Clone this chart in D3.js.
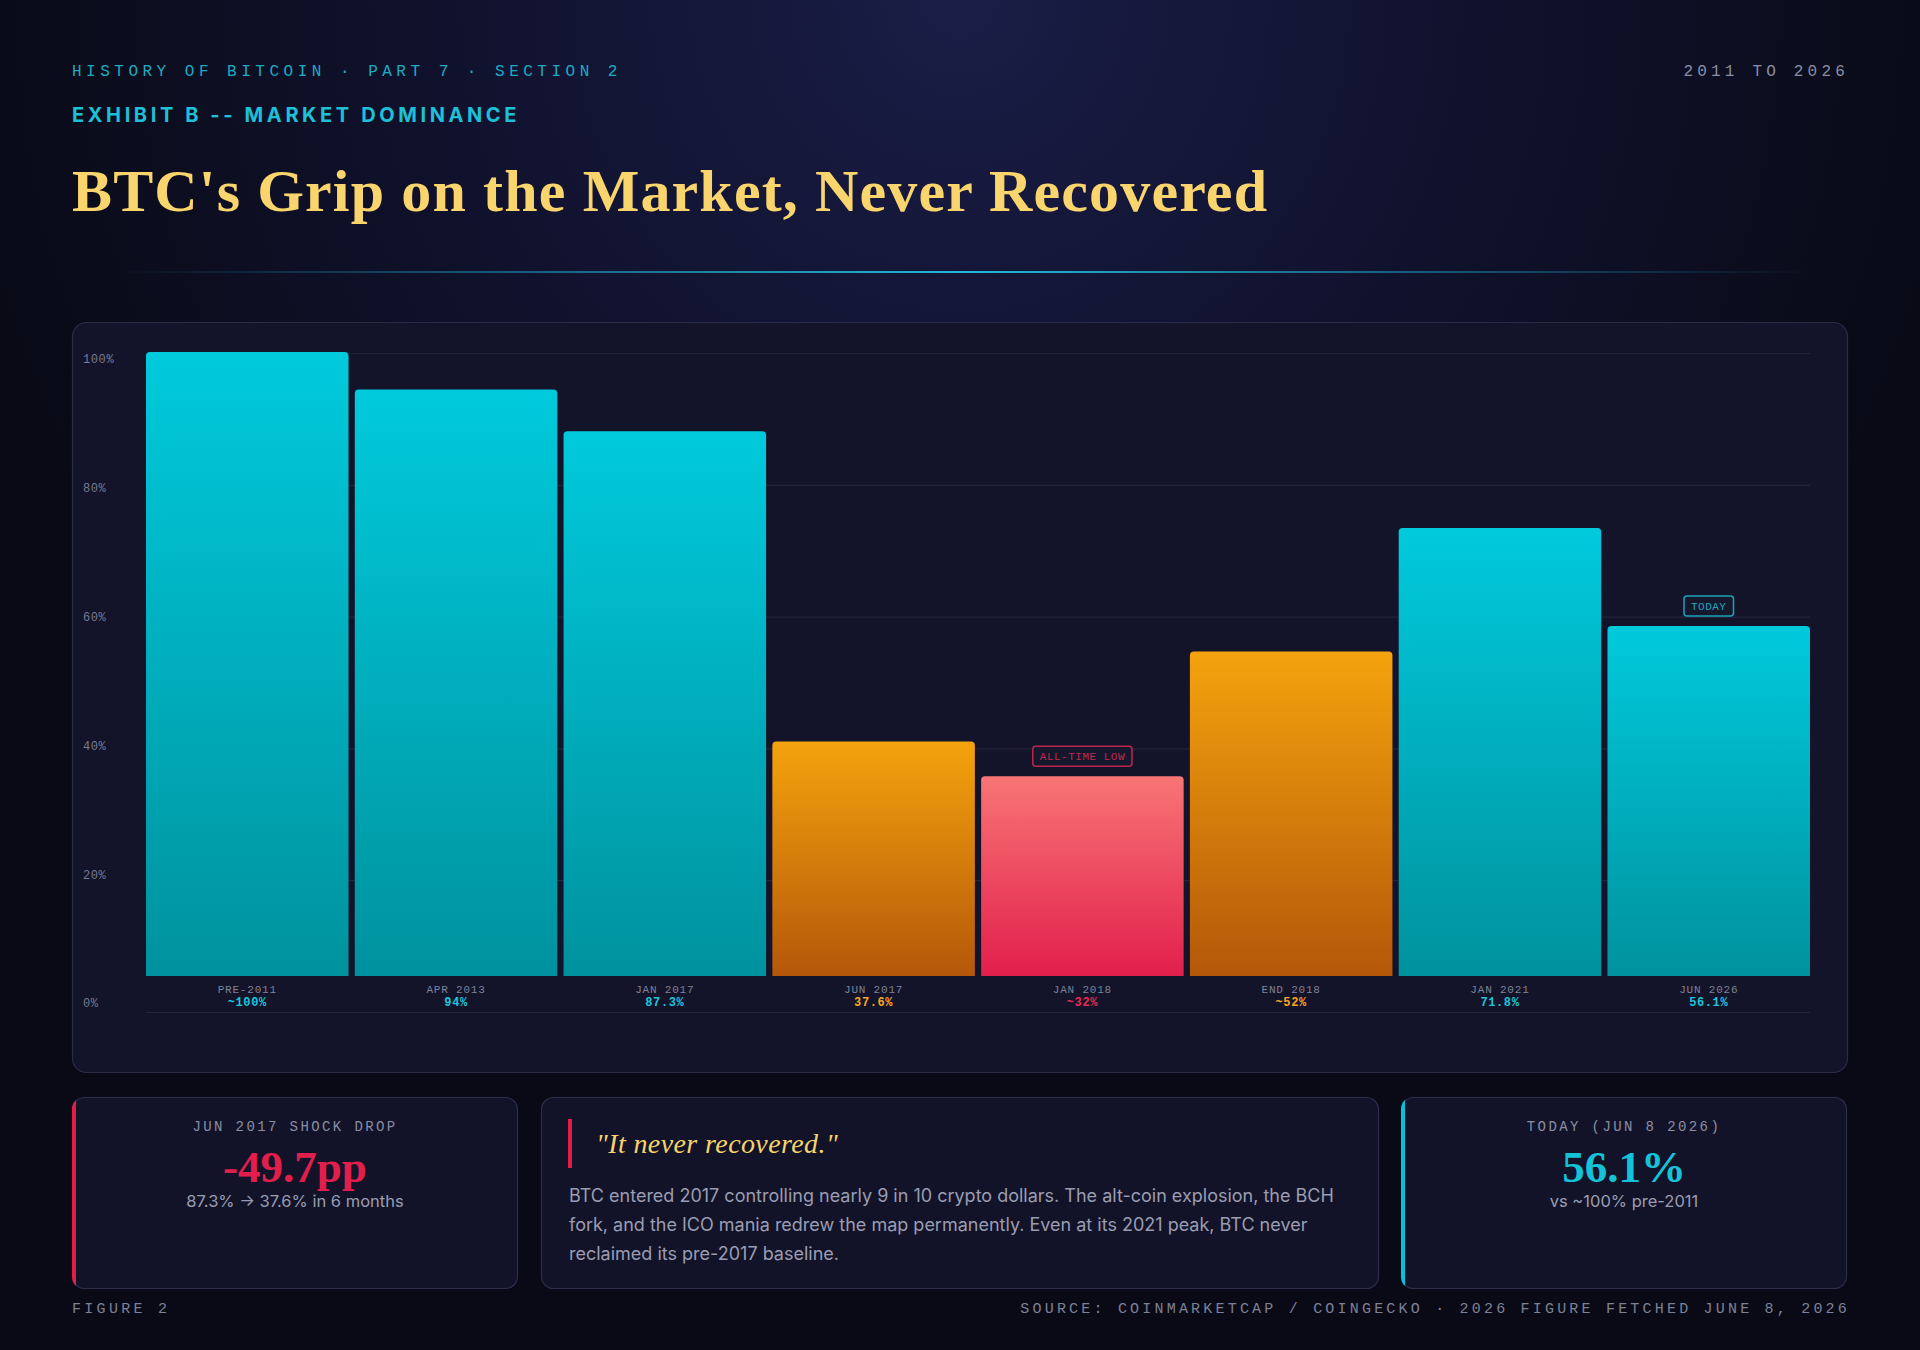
<!DOCTYPE html>
<html lang="en">
<head>
<meta charset="UTF-8">
<title>btc-dominance</title>
<script src="https://cdn.jsdelivr.net/npm/d3@7"></script>
<style>
  html, body { margin: 0; padding: 0; background: #0a0b19; }
  svg { display: block; }
  .mono { font-family: "Courier New", "Liberation Mono", monospace; }
  .sans { font-family: Inter, "Noto Sans", sans-serif; }
  .serif { font-family: Georgia, "Liberation Serif", serif; }
</style>
</head>
<body>
<script>
// chart data
const categories = ['PRE-2011', 'APR 2013', 'JAN 2017', 'JUN 2017', 'JAN 2018', 'END 2018', 'JAN 2021', 'JUN 2026'];
const dominance = [100, 94, 87.3, 37.6, 32, 52, 71.8, 56.1];
const valueLabels = ['~100%', '94%', '87.3%', '37.6%', '~32%', '~52%', '71.8%', '56.1%'];
const phases = ['high', 'high', 'high', 'drop', 'low', 'drop', 'high', 'high'];
const yTicks = [0, 20, 40, 60, 80, 100];
const tagIndex = [4, 7];
const tagText = ['ALL-TIME LOW', 'TODAY'];

const bodyLines = [
  'BTC entered 2017 controlling nearly 9 in 10 crypto dollars. The alt-coin explosion, the BCH',
  'fork, and the ICO mania redrew the map permanently. Even at its 2021 peak, BTC never',
  'reclaimed its pre-2017 baseline.'
];

let width = 1920;
let height = 1350;

const colors = {
  high: { top: '#00cadc', bottom: '#00929e', text: '#1cc6dc' },
  drop: { top: '#f4a30d', bottom: '#b5570a', text: '#f5a623' },
  low:  { top: '#f87575', bottom: '#e21f4c', text: '#e62a55' }
};

let svg = d3.select('body')
  .append('svg')
  .attr('width', width)
  .attr('height', height);

let defs = svg.append('defs');

// background
let bg = defs.append('radialGradient')
  .attr('id', 'bgGlow')
  .attr('cx', '50%').attr('cy', '0%')
  .attr('r', '75%')
  .attr('gradientTransform', 'translate(0.5,0) scale(0.7,1) translate(-0.5,0)');
bg.append('stop').attr('offset', '0%').attr('stop-color', '#1a1d46');
bg.append('stop').attr('offset', '45%').attr('stop-color', '#111330');
bg.append('stop').attr('offset', '100%').attr('stop-color', '#090a16');

svg.append('rect').attr('width', width).attr('height', height).attr('fill', '#090a16');
svg.append('rect').attr('width', width).attr('height', height).attr('fill', 'url(#bgGlow)');

Object.keys(colors).forEach(function (k) {
  let g = defs.append('linearGradient')
    .attr('id', 'bar-' + k)
    .attr('x1', 0).attr('y1', 0).attr('x2', 0).attr('y2', 1);
  g.append('stop').attr('offset', '0%').attr('stop-color', colors[k].top);
  g.append('stop').attr('offset', '100%').attr('stop-color', colors[k].bottom);
});

let rule = defs.append('linearGradient').attr('id', 'rule');
rule.append('stop').attr('offset', '0%').attr('stop-color', '#1aa8c8').attr('stop-opacity', 0);
rule.append('stop').attr('offset', '50%').attr('stop-color', '#22b8dc').attr('stop-opacity', 1);
rule.append('stop').attr('offset', '100%').attr('stop-color', '#1aa8c8').attr('stop-opacity', 0);

// header
svg.append('text')
  .attr('class', 'mono')
  .attr('x', 72).attr('y', 76)
  .attr('font-size', 16)
  .attr('letter-spacing', 4.5)
  .attr('fill', '#1eaac2')
  .text('HISTORY OF BITCOIN · PART 7 · SECTION 2');

svg.append('text')
  .attr('class', 'mono')
  .attr('x', 1849).attr('y', 76)
  .attr('text-anchor', 'end')
  .attr('font-size', 16)
  .attr('letter-spacing', 4.2)
  .attr('fill', '#8a8ea6')
  .text('2011 TO 2026');

svg.append('text')
  .attr('class', 'sans')
  .attr('x', 72).attr('y', 122)
  .attr('font-size', 20)
  .attr('font-weight', 700)
  .attr('letter-spacing', 3.6)
  .attr('fill', '#1ec0d8')
  .text('EXHIBIT B -- MARKET DOMINANCE');

svg.append('text')
  .attr('class', 'serif')
  .attr('x', 72).attr('y', 211)
  .attr('font-size', 60)
  .attr('font-weight', 700)
  .attr('textLength', 1195)
  .attr('lengthAdjust', 'spacing')
  .attr('fill', '#fad46c')
  .text("BTC's Grip on the Market, Never Recovered");

svg.append('rect')
  .attr('x', 110).attr('y', 271)
  .attr('width', 1708).attr('height', 2)
  .attr('fill', 'url(#rule)');

// chart card
svg.append('rect')
  .attr('x', 72.5).attr('y', 322.5)
  .attr('width', 1775).attr('height', 750)
  .attr('rx', 14)
  .attr('fill', '#131429')
  .attr('stroke', '#2a2c46')
  .attr('stroke-width', 1.2);

let x = d3.scaleBand()
  .domain(categories)
  .range([146, 1810])
  .paddingInner(0.03)
  .paddingOuter(0);

let yBar = d3.scaleLinear().domain([0, 100]).range([976, 352]);
let yGrid = d3.scaleLinear().domain([0, 100]).range([1012, 353]);
let yLabel = d3.scaleLinear().domain([0, 100]).range([1003, 359]);

// grid lines
let grid = svg.append('g')
  .attr('class', 'grid')
  .attr('transform', 'translate(146,0)')
  .call(d3.axisLeft(yGrid).tickValues(yTicks).tickSize(-(1810 - 146)).tickFormat(''));
grid.select('.domain').remove();
grid.selectAll('line').attr('stroke', '#23253c').attr('stroke-width', 1.2);

// y labels
let yAxis = svg.append('g')
  .attr('class', 'y-axis')
  .attr('transform', 'translate(83,0)')
  .call(d3.axisLeft(yLabel).tickValues(yTicks).tickSize(0).tickPadding(0).tickFormat(d => d + '%'));
yAxis.select('.domain').remove();
yAxis.selectAll('text')
  .attr('class', 'mono')
  .attr('text-anchor', 'start')
  .attr('x', 0)
  .attr('font-size', 12)
  .attr('letter-spacing', 0.6)
  .attr('fill', '#767a92');

// bars
function barPath(x0, y0, w, h, r) {
  r = Math.min(r, h);
  return 'M' + x0 + ',' + (y0 + h) +
    'V' + (y0 + r) +
    'Q' + x0 + ',' + y0 + ' ' + (x0 + r) + ',' + y0 +
    'H' + (x0 + w - r) +
    'Q' + (x0 + w) + ',' + y0 + ' ' + (x0 + w) + ',' + (y0 + r) +
    'V' + (y0 + h) + 'Z';
}

let barData = categories.map((c, i) => ({ cat: c, v: dominance[i], label: valueLabels[i], phase: phases[i] }));

svg.append('g')
  .attr('class', 'bars')
  .selectAll('path')
  .data(barData)
  .join('path')
  .attr('d', d => barPath(x(d.cat), yBar(d.v), x.bandwidth(), yBar(0) - yBar(d.v), 4))
  .attr('fill', d => 'url(#bar-' + d.phase + ')');

// category labels
let xAxis = svg.append('g')
  .attr('class', 'x-axis')
  .attr('transform', 'translate(0,976)')
  .call(d3.axisBottom(x).tickSize(0).tickPadding(9));
xAxis.select('.domain').remove();
xAxis.selectAll('text')
  .attr('class', 'mono')
  .attr('font-size', 11)
  .attr('letter-spacing', 0.8)
  .attr('fill', '#7f8398');

svg.append('g')
  .attr('class', 'values')
  .selectAll('text')
  .data(barData)
  .join('text')
  .attr('class', 'mono')
  .attr('x', d => x(d.cat) + x.bandwidth() / 2)
  .attr('y', 1006)
  .attr('text-anchor', 'middle')
  .attr('font-size', 12)
  .attr('font-weight', 700)
  .attr('letter-spacing', 0.6)
  .attr('fill', d => colors[d.phase].text)
  .text(d => d.label);

// tags above bars
tagIndex.forEach(function (idx, k) {
  let d = barData[idx];
  let cx = x(d.cat) + x.bandwidth() / 2;
  let bottom = yBar(d.v) - 10;
  let col = colors[d.phase].text;
  let g = svg.append('g').attr('class', 'tag');
  let rect = g.append('rect');
  let t = g.append('text')
    .attr('class', 'mono')
    .attr('x', cx)
    .attr('y', bottom - 6)
    .attr('text-anchor', 'middle')
    .attr('font-size', 11)
    .attr('letter-spacing', 0.5)
    .attr('fill', col)
    .attr('fill-opacity', 0.85)
    .text(tagText[k]);
  let w = t.node().getComputedTextLength() + 14;
  rect.attr('x', cx - w / 2).attr('y', bottom - 20)
    .attr('width', w).attr('height', 20)
    .attr('rx', 3)
    .attr('fill', '#15172c')
    .attr('stroke', col)
    .attr('stroke-opacity', 0.8)
    .attr('stroke-width', 1.5);
});

// bottom cards
function card(x0, w, accent, id) {
  let g = svg.append('g');
  defs.append('clipPath').attr('id', id)
    .append('rect').attr('x', x0).attr('y', 1097).attr('width', w).attr('height', 192).attr('rx', 12);
  g.append('rect')
    .attr('x', x0 + 0.5).attr('y', 1097.5)
    .attr('width', w - 1).attr('height', 191)
    .attr('rx', 12)
    .attr('fill', '#121328')
    .attr('stroke', '#2b2d4a')
    .attr('stroke-width', 1.2);
  if (accent) {
    g.append('rect')
      .attr('x', x0).attr('y', 1097)
      .attr('width', 4).attr('height', 192)
      .attr('fill', accent)
      .attr('clip-path', 'url(#' + id + ')');
  }
  return g;
}

function statCard(x0, w, accent, title, big, sub, bigColor, id) {
  let g = card(x0, w, accent, id);
  let cx = x0 + w / 2;
  g.append('text').attr('class', 'mono')
    .attr('x', cx).attr('y', 1131).attr('text-anchor', 'middle')
    .attr('font-size', 14).attr('letter-spacing', 2.4)
    .attr('fill', '#8a8ea4').text(title);
  g.append('text').attr('class', 'serif')
    .attr('x', cx).attr('y', 1182).attr('text-anchor', 'middle')
    .attr('font-size', 45).attr('font-weight', 700)
    .attr('fill', bigColor).text(big);
  g.append('text').attr('class', 'sans')
    .attr('x', cx).attr('y', 1207).attr('text-anchor', 'middle')
    .attr('font-size', 16.5)
    .attr('fill', '#9a9db2').text(sub);
}

statCard(72, 446, '#e11d48', 'JUN 2017 SHOCK DROP', '-49.7pp', '87.3% → 37.6% in 6 months', '#e21f4c', 'c1');
statCard(1401, 446, '#06c2d8', 'TODAY (JUN 8 2026)', '56.1%', 'vs ~100% pre-2011', '#14c3d8', 'c3');

let mid = card(541, 838, null, 'c2');
mid.append('rect').attr('x', 568).attr('y', 1119).attr('width', 4).attr('height', 49).attr('fill', '#e11d48');
mid.append('text').attr('class', 'serif')
  .attr('x', 596).attr('y', 1153)
  .attr('font-size', 28).attr('font-style', 'italic')
  .attr('letter-spacing', 0.4)
  .attr('fill', '#f6d36b')
  .text('"It never recovered."');
mid.append('g').selectAll('text')
  .data(bodyLines)
  .join('text')
  .attr('class', 'sans')
  .attr('x', 569)
  .attr('y', (d, i) => 1202 + i * 29)
  .attr('font-size', 18)
  .attr('fill', '#9a9db2')
  .text(d => d);

// footer
svg.append('text').attr('class', 'mono')
  .attr('x', 72).attr('y', 1313)
  .attr('font-size', 15).attr('letter-spacing', 3.3)
  .attr('fill', '#7d8196').text('FIGURE 2');
svg.append('text').attr('class', 'mono')
  .attr('x', 1850).attr('y', 1313).attr('text-anchor', 'end')
  .attr('font-size', 15).attr('letter-spacing', 3.2)
  .attr('fill', '#7d8196').text('SOURCE: COINMARKETCAP / COINGECKO · 2026 FIGURE FETCHED JUNE 8, 2026');
</script>
</body>
</html>
